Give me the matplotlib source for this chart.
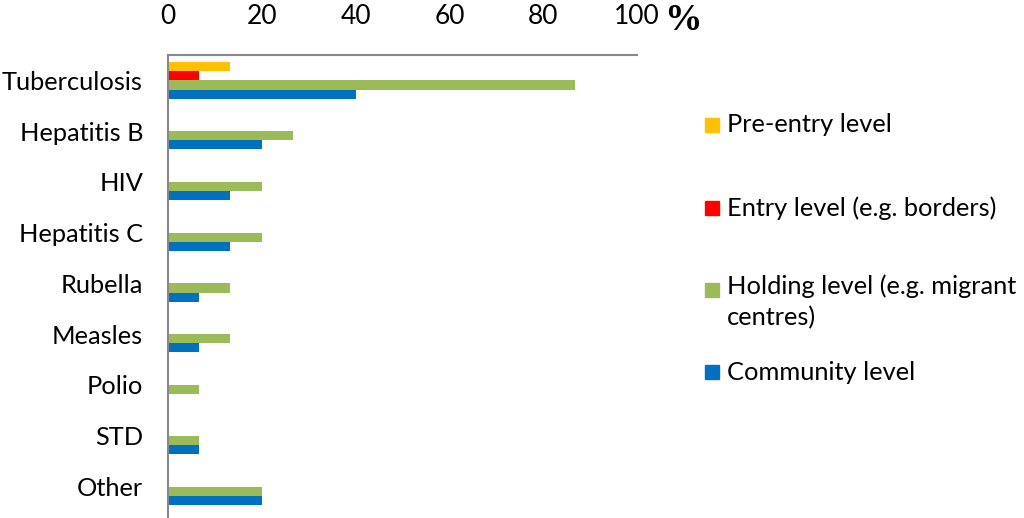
import numpy as np
import matplotlib.pyplot as plt
from matplotlib.patches import Rectangle

plt.rcParams['font.family'] = ['Lato', 'DejaVu Sans']

diseases = ['Tuberculosis', 'Hepatitis B', 'HIV', 'Hepatitis C', 'Rubella',
            'Measles', 'Polio', 'STD', 'Other']
series_names = ['Pre-entry level', 'Entry level (e.g. borders)',
                'Holding level (e.g. migrant\ncentres)', 'Community level']
colors = ['#FFC000', '#FF0000', '#9BBB59', '#0070C0']

pre_entry = [13.3, 0, 0, 0, 0, 0, 0, 0, 0]
entry = [6.7, 0, 0, 0, 0, 0, 0, 0, 0]
holding = [86.7, 26.7, 20, 20, 13.3, 13.3, 6.7, 6.7, 20]
community = [40, 20, 13.3, 13.3, 6.7, 6.7, 0, 6.7, 20]
series = [pre_entry, entry, holding, community]

fs = 18.3

fig = plt.figure(figsize=(10.24, 5.18), dpi=100)
ax = fig.add_axes([168 / 1024, 0, (637 - 168) / 1024, (518 - 55) / 518])

y = np.arange(len(diseases))
h = 0.18
for i, (vals, col) in enumerate(zip(series, colors)):
    ax.barh(y + (i - 1.5) * h, vals, height=h, color=col, edgecolor='none')

ax.set_xlim(0, 100)
ax.set_ylim(8.62, -0.5)
ax.set_yticks(y)
ax.set_yticklabels(diseases, fontsize=fs)
ax.set_xticks(np.arange(0, 101, 20))
ax.xaxis.tick_top()
ax.tick_params(axis='x', length=0, pad=19, labelsize=fs + 0.7)
ax.tick_params(axis='y', length=0, pad=18)
for s in ['right', 'bottom']:
    ax.spines[s].set_visible(False)
for s in ['left', 'top']:
    ax.spines[s].set_color('#888888')
    ax.spines[s].set_linewidth(1.5)

fig.text(664 / 1024, 1 - 20 / 518, '%', fontsize=27, fontweight='bold',
         family='Liberation Serif', va='center', ha='left')

# legend drawn by hand so the two-line entry keeps its marker on the first line
legend_y = [125, 208, 290, 372]
for name, col, ly in zip(series_names, colors, legend_y):
    fig.patches.append(Rectangle((705 / 1024, 1 - (ly + 7) / 518), 14 / 1024, 14 / 518,
                                 transform=fig.transFigure, color=col))
    if '\n' in name:
        fig.text(727 / 1024, 1 - (ly - 16) / 518, name, fontsize=fs, va='top',
                 ha='left', linespacing=1.45)
    else:
        fig.text(727 / 1024, 1 - ly / 518, name, fontsize=fs, va='center', ha='left')

fig.savefig('out.png', dpi=100)
